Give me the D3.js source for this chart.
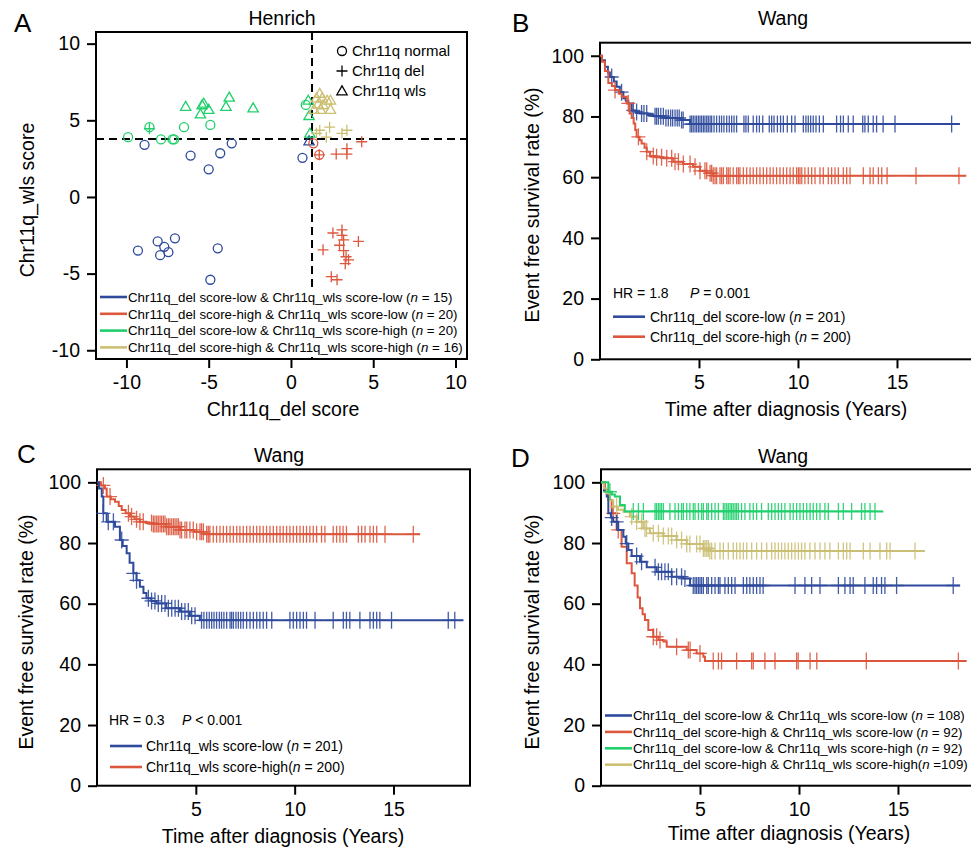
<!DOCTYPE html>
<html>
<head>
<meta charset="utf-8">
<script src="https://cdn.jsdelivr.net/npm/d3@7"></script>
<style>
  body { margin: 0; background: #fff; }
  svg { display: block; font-family: "Liberation Sans", Arial, sans-serif; }
</style>
</head>
<body>
<script>
// ---------- Panel A: Henrich scatter ----------
const delCutoff = 1.28
const wlsCutoff = 3.78

// [del score, wls score, chr11q status]
const delLowWlsLow = [
  [-8.9, 3.4, 'normal'], [-6.1, 2.7, 'normal'], [-5.0, 1.8, 'normal'], [-4.3, 2.85, 'normal'],
  [-3.6, 3.5, 'normal'], [0.7, 2.55, 'normal'], [-9.3, -3.5, 'normal'], [-8.1, -2.9, 'normal'],
  [-7.7, -3.25, 'normal'], [-7.95, -3.8, 'normal'], [-7.45, -3.6, 'normal'], [-7.05, -2.7, 'normal'],
  [-4.45, -3.35, 'normal'], [-4.9, -5.4, 'normal'], [1.1, 3.65, 'wls']
]
const delHighWlsLow = [
  [1.36, 3.5, 'normal'], [1.72, 2.75, 'normal'], [1.72, 2.75, 'del'], [2.75, 2.8, 'del'],
  [3.4, 3.15, 'del'], [3.4, 2.8, 'del'], [4.3, 3.6, 'del'], [2.55, -2.35, 'del'],
  [3.1, -2.5, 'del'], [3.2, -2.8, 'del'], [4.1, -2.9, 'del'], [1.95, -3.45, 'del'],
  [2.95, -3.15, 'del'], [3.2, -3.5, 'del'], [3.35, -3.9, 'del'], [3.3, -4.35, 'del'],
  [2.45, -5.2, 'del'], [2.8, -5.4, 'del'], [3.1, -2.15, 'del'], [3.5, -4.1, 'del']
]
const delLowWlsHigh = [
  [-6.4, 5.9, 'wls'], [-5.4, 6.0, 'wls'], [-5.3, 6.1, 'wls'], [-5.0, 5.7, 'wls'],
  [-5.5, 5.4, 'wls'], [-3.95, 5.9, 'wls'], [-3.75, 6.5, 'wls'], [-2.3, 5.8, 'wls'],
  [1.05, 6.3, 'wls'], [1.1, 5.3, 'wls'], [1.15, 4.15, 'wls'], [-9.9, 3.9, 'normal'],
  [-8.6, 4.55, 'normal'], [-7.9, 3.75, 'normal'], [-7.2, 3.75, 'normal'], [-6.5, 4.55, 'normal'],
  [-4.9, 4.7, 'normal'], [0.9, 6.0, 'normal'], [-8.6, 4.45, 'del'], [-7.1, 3.75, 'normal']
]
const delHighWlsHigh = [
  [1.75, 6.75, 'wls'], [1.55, 6.45, 'wls'], [1.9, 6.45, 'wls'], [2.2, 6.3, 'wls'],
  [2.4, 6.3, 'wls'], [1.65, 6.05, 'wls'], [1.95, 6.0, 'wls'], [2.4, 5.7, 'wls'],
  [1.4, 5.7, 'wls'], [1.8, 5.7, 'wls'], [1.55, 4.15, 'del'], [2.35, 4.55, 'del'],
  [3.4, 4.35, 'del'], [3.1, 4.15, 'del'], [2.15, 3.9, 'del'], [1.75, 4.35, 'del']
]
const scatterGroups = [delLowWlsLow, delHighWlsLow, delLowWlsHigh, delHighWlsHigh]
const scatterLegend = [
  ['Chr11q_del score-low & Chr11q_wls score-low (', ' = 15)'],
  ['Chr11q_del score-high & Chr11q_wls score-low (', ' = 20)'],
  ['Chr11q_del score-low & Chr11q_wls score-high (', ' = 20)'],
  ['Chr11q_del score-high & Chr11q_wls score-high (', ' = 16)']
]
const statusLabels = ['Chr11q normal', 'Chr11q del', 'Chr11q wls']
const scatterTicks = [-10, -5, 0, 5, 10]

// ---------- Panel B: Wang, del score ----------
const bLowTime = [0, 0.1, 0.25, 0.4, 0.5, 0.7, 0.84, 1.0, 1.18, 1.3, 1.43, 1.6, 1.8, 2.0, 2.4, 2.7, 3.3, 4.04, 4.55]
const bLowSurv = [100, 98.5, 96.4, 94.5, 93, 91.5, 89.8, 88, 86, 85.2, 84.3, 82, 81.5, 81, 80.5, 80.1, 79.5, 78.8, 77.5]
const bLowCensor = [0.59, 1.09, 1.68, 1.85, 2.1, 2.22, 2.36, 2.78, 2.86, 2.95, 3.07, 3.2, 3.33, 3.45, 3.57, 3.67,
  3.79, 3.9, 4.0, 4.12, 4.2, 4.55, 4.63, 4.71, 4.8, 4.88, 4.97, 5.05, 5.13, 5.22, 5.3, 5.39, 5.47, 5.56, 5.64,
  5.76, 5.89, 6.03, 6.14, 6.26, 6.4, 6.53, 6.65, 6.77, 6.9, 7.27, 7.37, 7.49, 7.74, 7.91, 8.05, 8.22, 8.55,
  8.67, 8.79, 8.96, 9.12, 9.26, 9.46, 9.68, 9.85, 10.27, 10.4, 10.52, 10.64, 10.77, 10.91, 11.08, 11.28, 11.95,
  12.15, 12.29, 12.54, 12.79, 13.27, 13.38, 13.55, 13.8, 13.97, 14.3, 14.9, 17.76]
const bLowEnd = 18.18
const bHighTime = [0, 0.1, 0.25, 0.42, 0.6, 0.76, 0.95, 1.1, 1.35, 1.5, 1.6, 1.7, 1.78, 1.85, 2.0, 2.1, 2.25, 2.36, 2.53, 2.8, 3.2, 3.7, 4.2, 4.7, 5.05, 5.4, 5.7]
const bHighSurv = [100, 98, 95, 91, 90, 88.7, 87.5, 86.5, 84.3, 81, 79.5, 77.7, 75.5, 73.3, 72.2, 71.1, 69.7, 68.4, 67, 66.6, 66.2, 65.1, 64.3, 63.4, 62.1, 61.3, 60.5]
const bHighCensor = [0.76, 1.43, 1.94, 2.36, 2.69, 2.86, 3.11, 3.37, 3.62, 3.79, 3.96, 4.21, 4.55, 4.8, 5.05,
  5.3, 5.39, 5.56, 5.64, 5.72, 5.81, 5.89, 6.06, 6.14, 6.23, 6.4, 6.48, 6.57, 6.73, 6.9, 6.99, 7.07, 7.24,
  7.41, 7.58, 7.74, 7.91, 8.08, 8.25, 8.42, 8.59, 8.75, 8.92, 9.09, 9.26, 9.43, 9.6, 9.76, 9.93, 10.02, 10.1,
  10.19, 10.35, 10.52, 10.69, 10.86, 11.11, 11.28, 11.53, 11.7, 11.87, 12.04, 12.29, 12.46, 12.63, 13.3,
  13.64, 13.8, 14.06, 14.23, 14.5, 15.96, 18.13]
const bHighEnd = 18.5

// ---------- Panel C: Wang, wls score ----------
const cLowTime = [0, 0.1, 0.24, 0.32, 0.49, 0.91, 1.16, 1.3, 1.5, 1.65, 1.84, 2.0, 2.17, 2.35, 2.5, 2.75, 3.0, 3.5, 4.2, 4.7, 5.2]
const cLowSurv = [100, 98, 95.3, 89.8, 87, 85.4, 81, 79, 76.6, 73.5, 70, 67.7, 65.6, 63.5, 61.8, 60.9, 60.1, 58.5, 57.4, 56, 54.5]
const cLowCensor = [0.32, 0.57, 0.83, 1.25, 1.84, 2.0, 2.6, 2.76, 2.93, 3.1, 3.27, 3.44, 3.61, 3.78, 3.95,
  4.12, 4.28, 4.45, 4.62, 4.79, 4.96, 5.29, 5.41, 5.55, 5.68, 5.8, 5.92, 6.05, 6.19, 6.3, 6.42, 6.56, 6.73,
  6.81, 6.9, 7.03, 7.15, 7.27, 7.4, 7.57, 7.74, 7.91, 8.08, 8.24, 8.41, 8.58, 8.84, 9.76, 9.93, 10.1, 10.27,
  10.44, 10.6, 11.03, 11.95, 12.46, 12.62, 12.79, 13.3, 13.81, 13.98, 14.15, 14.31, 14.9, 17.77, 18.1]
const cLowEnd = 18.54
const cHighTime = [0, 0.2, 0.4, 0.49, 0.7, 0.91, 1.1, 1.25, 1.45, 1.67, 1.9, 2.17, 2.5, 2.85, 3.5, 4.2, 4.9, 5.4]
const cHighSurv = [100, 99, 98, 95.3, 94.4, 93.6, 92.2, 90.9, 89.8, 88.7, 87.8, 87, 86.6, 86.3, 85.4, 84.3, 83.7, 82.9]
const cHighCensor = [0.32, 0.66, 1.59, 1.75, 2.0, 2.17, 2.34, 2.76, 2.85, 2.93, 3.02, 3.1, 3.19, 3.27, 3.36,
  3.44, 3.52, 3.61, 3.69, 3.78, 3.87, 3.95, 4.04, 4.12, 4.2, 4.28, 4.45, 4.54, 4.7, 4.87, 5.04, 5.21, 5.29,
  5.38, 5.55, 5.63, 5.71, 5.88, 6.05, 6.22, 6.39, 6.56, 6.73, 6.9, 7.07, 7.23, 7.4, 7.57, 7.74, 7.91, 8.08,
  8.24, 8.41, 8.58, 8.75, 8.92, 9.09, 9.26, 9.42, 9.59, 9.76, 9.93, 10.1, 10.27, 10.44, 10.6, 10.77, 10.94,
  11.11, 11.36, 11.53, 11.95, 12.12, 12.29, 12.45, 12.62, 13.22, 13.39, 13.56, 13.81, 13.98, 14.15, 14.57, 16.0]
const cHighEnd = 16.34

// ---------- Panel D: Wang, combined groups ----------
const dLowLowTime = [0, 0.15, 0.29, 0.37, 0.5, 0.62, 0.87, 1.13, 1.25, 1.38, 1.55, 1.97, 2.31, 2.81, 3.57, 4.16, 4.5]
const dLowLowSurv = [100, 97.5, 95.3, 89.8, 88.4, 87, 84.3, 82.1, 79.8, 77.7, 75.7, 73.8, 72, 70.5, 68.9, 68.3, 66]
const dLowLowCensor = [0.54, 0.79, 1.3, 1.8, 2.05, 2.73, 2.9, 3.06, 3.23, 3.4, 3.57, 3.82, 4.07, 4.24, 4.66,
  4.75, 4.83, 4.92, 5.0, 5.08, 5.17, 5.34, 5.42, 5.59, 5.76, 5.93, 6.01, 6.26, 6.43, 6.6, 6.77, 7.19, 7.36,
  7.52, 7.69, 7.86, 8.03, 8.19, 9.8, 10.3, 10.64, 11.06, 11.99, 12.32, 12.58, 12.74, 13.33, 13.75, 13.92,
  14.17, 14.34, 14.93, 17.79]
const dLowLowEnd = 18.13
const dHighLowTime = [0, 0.2, 0.37, 0.54, 0.79, 1.04, 1.3, 1.55, 1.7, 1.85, 1.97, 2.1, 2.22, 2.39, 2.64, 2.9, 3.15, 3.32, 4.33, 4.83, 5.17, 5.25]
const dHighLowSurv = [100, 97, 94.2, 89.8, 84.3, 78.8, 73.3, 70, 66, 62, 58.5, 56.5, 54.6, 51.3, 49.1, 48, 47.5, 45.8, 44.7, 43.6, 42.5, 41.1]
const dHighLowCensor = [0.62, 0.87, 2.64, 2.81, 2.98, 3.82, 4.41, 4.5, 5.0, 5.67, 5.93, 6.09, 6.85, 7.61,
  7.69, 8.28, 8.79, 9.88, 9.96, 10.56, 10.9, 13.4, 18.05]
const dHighLowEnd = 18.47
const dLowHighTime = [0, 0.37, 0.55, 0.7, 0.96, 1.2]
const dLowHighSurv = [100, 96.9, 96, 95.3, 92.5, 90.4]
const dLowHighCensor = [0.45, 1.63, 1.89, 2.14, 2.73, 2.81, 2.9, 2.98, 3.06, 3.15, 3.48, 3.74, 3.91, 4.07,
  4.16, 4.33, 4.49, 4.66, 4.75, 4.92, 5.08, 5.17, 5.34, 5.42, 5.59, 5.76, 5.93, 6.18, 6.26, 6.35, 6.43, 6.52,
  6.6, 6.68, 6.77, 6.85, 6.94, 7.1, 7.27, 7.52, 7.69, 7.86, 8.11, 8.45, 8.62, 8.79, 8.96, 9.12, 9.29, 9.55,
  9.71, 9.88, 10.05, 10.22, 10.39, 10.56, 10.72, 10.89, 11.06, 11.31, 11.48, 11.99, 12.24, 12.66, 13.16,
  13.33, 13.59, 13.84]
const dLowHighEnd = 14.26
const dHighHighTime = [0, 0.15, 0.29, 0.45, 0.62, 0.85, 1.13, 1.46, 1.8, 2.14, 2.47, 3.15, 3.82, 4.33, 5.17, 5.5]
const dHighHighSurv = [100, 98, 96.4, 94, 92, 91, 90.3, 88.7, 87, 84.8, 83.2, 82.3, 81, 79.7, 78.2, 77.4]
const dHighHighCensor = [0.79, 1.55, 1.8, 2.05, 2.22, 2.3, 2.64, 2.9, 3.15, 3.4, 3.57, 3.82, 4.07, 4.33, 4.49,
  4.83, 5.0, 5.17, 5.25, 5.34, 5.42, 5.5, 5.59, 5.76, 6.01, 6.18, 6.43, 6.68, 6.85, 7.02, 7.19, 7.36, 7.61,
  7.86, 8.11, 8.37, 8.62, 8.79, 8.96, 9.12, 9.29, 9.46, 9.63, 9.8, 9.97, 10.13, 10.3, 10.55, 10.81, 11.06,
  11.31, 11.56, 11.99, 12.24, 12.41, 12.58, 13.25, 13.59, 14.09, 14.43, 14.6, 15.86]
const dHighHighEnd = 16.36

const kmXTicks = [5, 10, 15]
const kmYTicks = [0, 20, 40, 60, 80, 100]

// Colours
const blue = '#2f4a9c'
const red = '#dc573d'
const green = '#1fcf6b'
const olive = '#cbbf74'
const groupColors = [blue, red, green, olive]

const width = 971
const height = 849
const fontSize = 19.5

const svg = d3.select('body').append('svg')
  .attr('width', width)
  .attr('height', height)
svg.append('rect').attr('width', width).attr('height', height).attr('fill', '#fff')

function panelLetter(letter, x, y) {
  svg.append('text').attr('x', x).attr('y', y)
    .attr('font-size', 26).text(letter)
}

function centerText(txt, x, y) {
  svg.append('text').attr('x', x).attr('y', y)
    .attr('text-anchor', 'middle').attr('font-size', fontSize).text(txt)
}

function yLabel(txt, x, y) {
  svg.append('text')
    .attr('transform', `translate(${x},${y}) rotate(-90)`)
    .attr('text-anchor', 'middle').attr('font-size', fontSize).text(txt)
}

// plain hyphen for negative numbers, as in the original figure
const plainFormat = d => String(d)

function drawAxes(g, xScale, yScale, xTicks, yTicks) {
  const bottom = yScale.range()[0]
  const left = xScale.range()[0]
  g.append('g')
    .attr('transform', `translate(0,${bottom})`)
    .call(d3.axisBottom(xScale).tickValues(xTicks).tickSize(9).tickPadding(7).tickFormat(plainFormat))
    .call(a => a.select('.domain').remove())
  g.append('g')
    .attr('transform', `translate(${left},0)`)
    .call(d3.axisLeft(yScale).tickValues(yTicks).tickSize(9).tickPadding(7).tickFormat(plainFormat))
    .call(a => a.select('.domain').remove())
  g.selectAll('.tick line').attr('stroke', '#000').attr('stroke-width', 2)
  g.selectAll('.tick text').attr('font-size', fontSize).attr('fill', '#000')
    .attr('font-family', '"Liberation Sans", Arial, sans-serif')
  const [x0, x1] = xScale.range()
  const [y0, y1] = yScale.range()
  g.append('rect')
    .attr('x', x0).attr('y', y1)
    .attr('width', x1 - x0).attr('height', y0 - y1)
    .attr('fill', 'none').attr('stroke', '#000').attr('stroke-width', 2)
}

// legend text with italic n
function legendText(g, x, y, pre, post, size) {
  const t = g.append('text').attr('x', x).attr('y', y + size * 0.36).attr('font-size', size)
  t.append('tspan').text(pre)
  t.append('tspan').attr('font-style', 'italic').text('n')
  t.append('tspan').text(post)
}

// ---------- Panel A ----------
const gA = svg.append('g')
const xA = d3.scaleLinear().domain([-11.85, 10.7]).range([96, 467])
const yA = d3.scaleLinear().domain([-10.57, 10.76]).range([359, 32])

gA.append('line')
  .attr('x1', xA(delCutoff)).attr('x2', xA(delCutoff))
  .attr('y1', yA.range()[1]).attr('y2', yA.range()[0])
  .attr('stroke', '#000').attr('stroke-width', 2).attr('stroke-dasharray', '8,5')
gA.append('line')
  .attr('x1', xA.range()[0]).attr('x2', xA.range()[1])
  .attr('y1', yA(wlsCutoff)).attr('y2', yA(wlsCutoff))
  .attr('stroke', '#000').attr('stroke-width', 2).attr('stroke-dasharray', '8,5')

const triangle = d3.symbol().type(d3.symbolTriangle).size(46)()
function drawSymbol(g, status, x, y, color) {
  if (status === 'normal') {
    g.append('circle').attr('cx', x).attr('cy', y).attr('r', 4.5)
      .attr('fill', 'none').attr('stroke', color).attr('stroke-width', 1.3)
  } else if (status === 'del') {
    g.append('path').attr('d', `M${x - 5.5},${y}H${x + 5.5}M${x},${y - 5.5}V${y + 5.5}`)
      .attr('stroke', color).attr('stroke-width', 1.3)
  } else {
    g.append('path').attr('d', triangle).attr('transform', `translate(${x},${y + 0.8})`)
      .attr('fill', 'none').attr('stroke', color).attr('stroke-width', 1.3)
  }
}

scatterGroups.forEach((group, i) => {
  group.forEach(d => drawSymbol(gA, d[2], xA(d[0]), yA(d[1]), groupColors[i]))
})

// symbol legend
const statusKeys = ['normal', 'del', 'wls']
statusKeys.forEach((s, i) => {
  const y = 51 + i * 20
  drawSymbol(gA, s, 342, y, '#000')
  gA.append('text').attr('x', 352).attr('y', y + 5.3).attr('font-size', 15).text(statusLabels[i])
})

// group legend (white background hides the dashed line)
gA.append('rect').attr('x', 98).attr('y', 288).attr('width', 368).attr('height', 69).attr('fill', '#fff')
scatterLegend.forEach((d, i) => {
  const y = 297 + i * 16.8
  gA.append('line').attr('x1', 100).attr('x2', 127).attr('y1', y).attr('y2', y)
    .attr('stroke', groupColors[i]).attr('stroke-width', 2.6)
  legendText(gA, 128, y, d[0], d[1], 13.3)
})
drawAxes(gA, xA, yA, scatterTicks, scatterTicks)

panelLetter('A', 14, 32)
centerText('Henrich', 282, 25)
centerText('Chr11q_del score', 283, 416)
yLabel('Chr11q_wls score', 34, 200)

// ---------- Kaplan-Meier panels ----------
function survAt(time, surv, t) {
  const i = d3.bisectRight(time, t) - 1
  return surv[Math.max(0, i)]
}

function kmPanel(o) {
  const g = svg.append('g')
  const x = d3.scaleLinear().domain([0, 18.87]).range([o.x0, o.x1])
  const y = d3.scaleLinear().domain([0, 104.3]).range([o.yb, o.yt])
  drawAxes(g, x, y, kmXTicks, kmYTicks)

  const line = d3.line().curve(d3.curveStepAfter).x(d => x(d[0])).y(d => y(d[1]))
  o.curves.forEach(c => {
    const pts = c.time.map((t, i) => [t, c.surv[i]])
    pts.push([c.end, c.surv[c.surv.length - 1]])
    g.append('path').datum(pts).attr('d', line)
      .attr('fill', 'none').attr('stroke', c.color).attr('stroke-width', 2)
    g.append('g').selectAll('path')
      .data(c.censor)
      .enter()
      .append('path')
      .attr('d', t => {
        const cx = x(t), cy = y(survAt(c.time, c.surv, t))
        return `M${cx - 7},${cy}H${cx + 7}M${cx},${cy - 8.5}V${cy + 8.5}`
      })
      .attr('stroke', c.color).attr('stroke-width', 1.3).attr('stroke-opacity', 0.9)
  })
  return g
}

// Panel B
const gB = kmPanel({
  x0: 600, x1: 973.6, yb: 359.3, yt: 42.7,
  curves: [
    { time: bLowTime, surv: bLowSurv, censor: bLowCensor, end: bLowEnd, color: blue },
    { time: bHighTime, surv: bHighSurv, censor: bHighCensor, end: bHighEnd, color: red }
  ]
})
gB.append('text').attr('x', 613).attr('y', 298).attr('font-size', 14).text('HR = 1.8')
gB.append('text').attr('x', 690).attr('y', 298).attr('font-size', 14)
  .call(t => { t.append('tspan').attr('font-style', 'italic').text('P'); t.append('tspan').text(' = 0.001') })
;[['Chr11q_del score-low (', ' = 201)', blue], ['Chr11q_del score-high (', ' = 200)', red]].forEach((d, i) => {
  const y = 316.7 + i * 20
  gB.append('line').attr('x1', 613).attr('x2', 645).attr('y1', y).attr('y2', y)
    .attr('stroke', d[2]).attr('stroke-width', 2.6)
  legendText(gB, 650, y, d[0], d[1], 14)
})
panelLetter('B', 512, 32)
centerText('Wang', 783, 25)
centerText('Time after diagnosis (Years)', 786, 416)
yLabel('Event free survival rate (%)', 539, 205)

// Panel C
const gC = kmPanel({
  x0: 97, x1: 470, yb: 785.7, yt: 469.3,
  curves: [
    { time: cHighTime, surv: cHighSurv, censor: cHighCensor, end: cHighEnd, color: red },
    { time: cLowTime, surv: cLowSurv, censor: cLowCensor, end: cLowEnd, color: blue }
  ]
})
gC.append('text').attr('x', 109).attr('y', 725).attr('font-size', 14).text('HR = 0.3')
gC.append('text').attr('x', 182).attr('y', 725).attr('font-size', 14)
  .call(t => { t.append('tspan').attr('font-style', 'italic').text('P'); t.append('tspan').text(' < 0.001') })
;[['Chr11q_wls score-low (', ' = 201)', blue], ['Chr11q_wls score-high(', ' = 200)', red]].forEach((d, i) => {
  const y = 746 + i * 21
  gC.append('line').attr('x1', 110).attr('x2', 142).attr('y1', y).attr('y2', y)
    .attr('stroke', d[2]).attr('stroke-width', 2.6)
  legendText(gC, 146, y, d[0], d[1], 14)
})
panelLetter('C', 17, 463)
centerText('Wang', 279, 462)
centerText('Time after diagnosis (Years)', 283, 843)
yLabel('Event free survival rate (%)', 33, 632)

// Panel D
const gD = kmPanel({
  x0: 601, x1: 974.6, yb: 785.7, yt: 469.3,
  curves: [
    { time: dHighLowTime, surv: dHighLowSurv, censor: dHighLowCensor, end: dHighLowEnd, color: red },
    { time: dLowLowTime, surv: dLowLowSurv, censor: dLowLowCensor, end: dLowLowEnd, color: blue },
    { time: dHighHighTime, surv: dHighHighSurv, censor: dHighHighCensor, end: dHighHighEnd, color: olive },
    { time: dLowHighTime, surv: dLowHighSurv, censor: dLowHighCensor, end: dLowHighEnd, color: green }
  ]
})
;[
  ['Chr11q_del score-low & Chr11q_wls score-low (', ' = 108)', blue],
  ['Chr11q_del score-high & Chr11q_wls score-low (', ' = 92)', red],
  ['Chr11q_del score-low & Chr11q_wls score-high (', ' = 92)', green],
  ['Chr11q_del score-high & Chr11q_wls score-high(', ' =109)', olive]
].forEach((d, i) => {
  const y = 715.5 + i * 16.4
  gD.append('line').attr('x1', 605).attr('x2', 632).attr('y1', y).attr('y2', y)
    .attr('stroke', d[2]).attr('stroke-width', 2.6)
  legendText(gD, 633, y, d[0], d[1], 13.3)
})
panelLetter('D', 511, 467)
centerText('Wang', 783, 463)
centerText('Time after diagnosis (Years)', 789, 840)
yLabel('Event free survival rate (%)', 539, 632)
</script>
</body>
</html>
